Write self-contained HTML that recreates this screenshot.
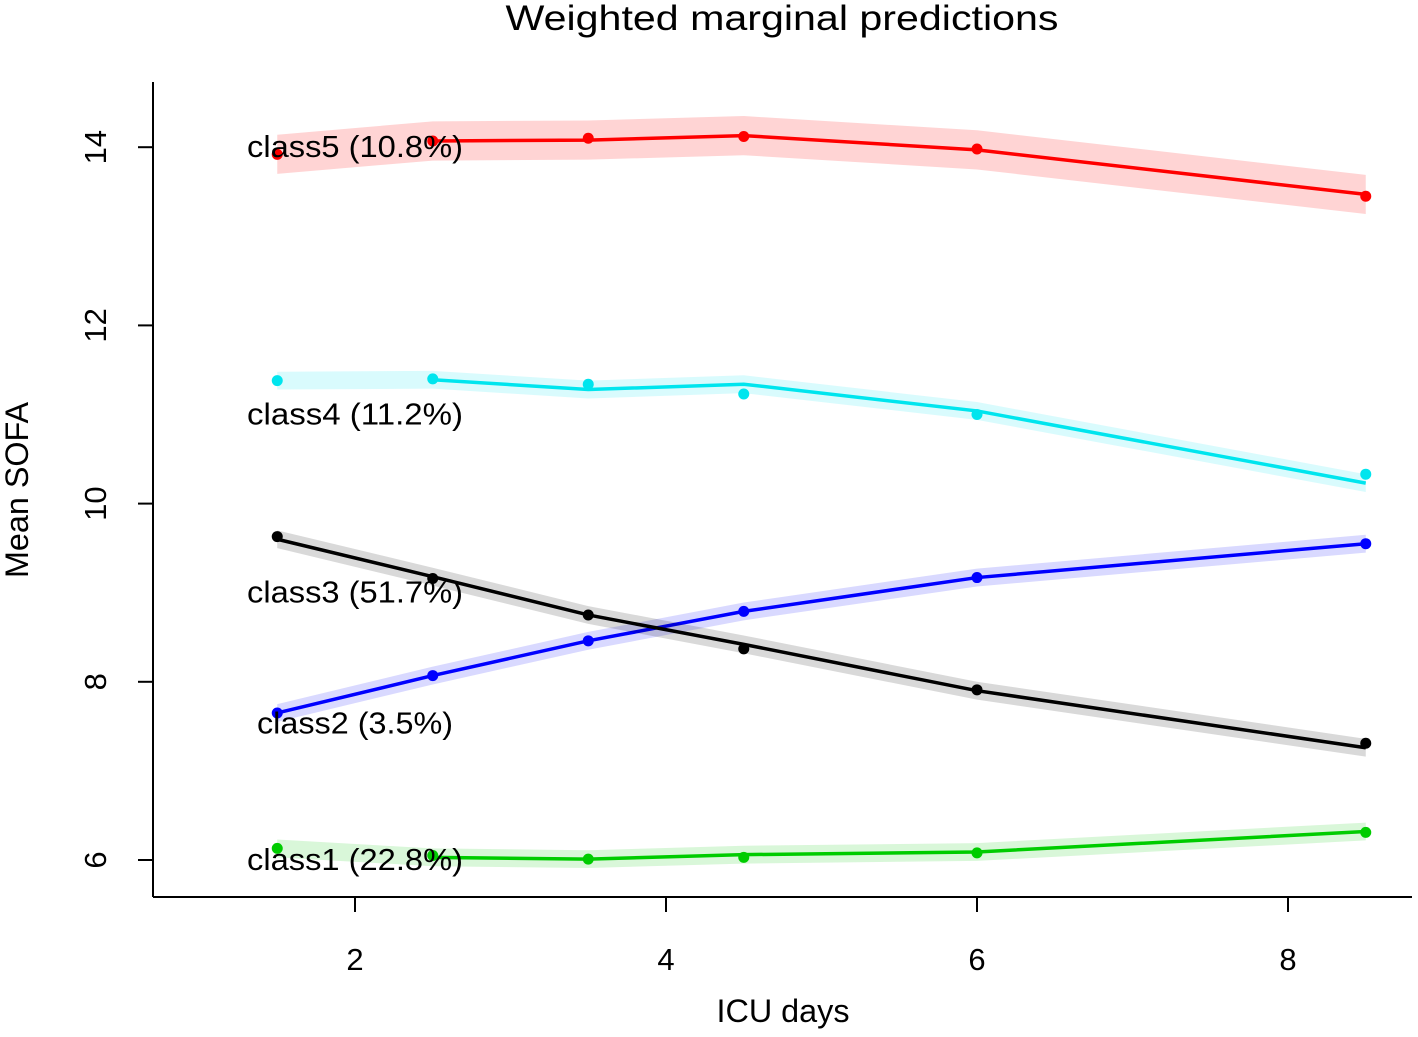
<!DOCTYPE html>
<html><head><meta charset="utf-8"><style>
body{margin:0;background:#fff}
svg text{font-family:"Liberation Sans",sans-serif;fill:#000}
</style></head><body>
<svg id="chart" width="1418" height="1032" xmlns="http://www.w3.org/2000/svg">
<text x="782" y="30" font-size="35" text-anchor="middle" textLength="553" lengthAdjust="spacingAndGlyphs">Weighted marginal predictions</text>
<line x1="153" y1="82" x2="153" y2="897" stroke="#000" stroke-width="2"/>
<line x1="153" y1="897" x2="1412" y2="897" stroke="#000" stroke-width="2"/>
<text x="783" y="1022" font-size="32" text-anchor="middle" textLength="133" lengthAdjust="spacingAndGlyphs">ICU days</text>
<text transform="translate(28,490) rotate(-90)" font-size="32" text-anchor="middle" textLength="176" lengthAdjust="spacingAndGlyphs">Mean SOFA</text>
<g id="ticks"></g><g id="series"></g>
</svg>
<script>
const xTicks=[2,4,6,8];
const yTicks=[6,8,10,12,14];
const days=[1.5,2.5,3.5,4.5,6,8.5];
const classNames=["class1 (22.8%)","class2 (3.5%)","class3 (51.7%)","class4 (11.2%)","class5 (10.8%)"];
const class1Obs=[6.13,6.05,6.01,6.03,6.08,6.31];
const class1Fit=[6.13,6.03,6.01,6.06,6.09,6.32];
const class2Obs=[7.65,8.07,8.46,8.79,9.17,9.55];
const class2Fit=[7.65,8.07,8.46,8.79,9.17,9.55];
const class3Obs=[9.63,9.16,8.75,8.37,7.91,7.31];
const class3Fit=[9.6,9.18,8.75,8.42,7.9,7.26];
const class4Obs=[11.38,11.4,11.34,11.23,11.0,10.33];
const class4Fit=[11.38,11.39,11.28,11.34,11.04,10.23];
const class5Obs=[13.92,14.07,14.1,14.12,13.98,13.45];
const class5Fit=[13.92,14.07,14.08,14.13,13.97,13.47];
const xs=v=>355+(v-2)*155.5;
const ys=v=>860-(v-6)*89.1;
const NS="http://www.w3.org/2000/svg";
const tg=document.getElementById('ticks'),sg=document.getElementById('series');
function mk(tag,attrs,parent){const e=document.createElementNS(NS,tag);for(const k in attrs)e.setAttribute(k,attrs[k]);parent.appendChild(e);return e;}
xTicks.forEach(t=>{
 const l=mk('line',{x1:xs(t),x2:xs(t),y1:897,y2:912,stroke:'#000','stroke-width':2},tg);
 
 
 const tx=mk('text',{x:xs(t),y:970,'font-size':31,'text-anchor':'middle'},tg);tx.textContent=t;
 
 
});
yTicks.forEach(t=>{
 const l=mk('line',{x1:138,x2:153,y1:ys(t),y2:ys(t),stroke:'#000','stroke-width':2},tg);
 
 
 const tx=mk('text',{transform:`translate(106,${ys(t)}) rotate(-90)`,'font-size':31,'text-anchor':'middle'},tg);tx.textContent=t;
 
 
});
const series=[
 {obs:class1Obs,fit:class1Fit,col:'#00cc00',band:'rgba(0,200,0,0.15)',bw:0.1,start:1,lx:247,ly:6.0,w:216},
 {obs:class2Obs,fit:class2Fit,col:'#0000ff',band:'rgba(0,0,255,0.15)',bw:0.1,start:0,lx:257,ly:7.53,w:196},
 {obs:class3Obs,fit:class3Fit,col:'#000000',band:'rgba(0,0,0,0.15)',bw:0.1,start:0,lx:247,ly:9.0,w:216},
 {obs:class4Obs,fit:class4Fit,col:'#00e5ee',band:'rgba(0,230,240,0.15)',bw:0.1,start:1,lx:247,ly:11.0,w:216},
 {obs:class5Obs,fit:class5Fit,col:'#ff0000',band:'rgba(255,0,0,0.17)',bw:0.22,start:1,lx:247,ly:14.0,w:216}
];
series.forEach((s,i)=>{
 const g=mk('g',{},sg);
 
 
 const up=days.map((d,j)=>xs(d)+','+ys(s.fit[j]+s.bw)).join(' ');
 const dn=days.map((d,j)=>xs(d)+','+ys(s.fit[j]-s.bw)).reverse().join(' ');
 const b=mk('polygon',{points:up+' '+dn,fill:s.band},g);
 
 
 const pts=days.slice(s.start).map((d,j)=>xs(d)+','+ys(s.fit[j+s.start])).join(' ');
 const l=mk('polyline',{points:pts,fill:'none',stroke:s.col,'stroke-width':3.5},g);
 
 
 days.forEach((d,j)=>{
  const c=mk('circle',{cx:xs(d),cy:ys(s.obs[j]),r:5.5,fill:s.col},g);
  
  
 });
});
series.forEach((s,i)=>{
 const t=mk('text',{x:s.lx,y:ys(s.ly)+10,'font-size':31,textLength:s.w,lengthAdjust:'spacingAndGlyphs'},sg);t.textContent=classNames[i];
 
 
});
</script>
</body></html>
